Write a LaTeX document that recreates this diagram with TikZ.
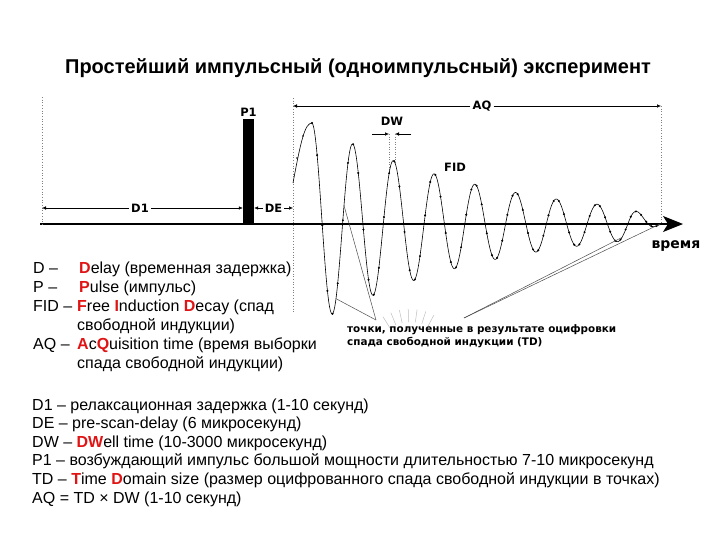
\documentclass[tikz,border=0pt]{standalone}
\usepackage{fontspec}
\setmainfont{Liberation Sans}
\newfontfamily\tagfont{DejaVu Sans}
\usetikzlibrary{arrows.meta, positioning, calc}
\definecolor{keyred}{HTML}{E01414}
\newcommand{\kl}[1]{\textbf{\textcolor{keyred}{#1}}}

\begin{document}
\begin{tikzpicture}[
    x=1pt, y=-1pt,
    declare function={fidamp(\t)=101*exp(-(\t-312)/175)*min(1,(661-\t)/30)*cos((\t-312)*8.8344);},
    tag/.style={font=\tagfont\bfseries\fontsize{11.5}{13}\selectfont, inner sep=2pt},
    note/.style={font=\tagfont\bfseries\fontsize{10.4}{13}\selectfont, align=left, inner sep=0pt},
    legend/.style={font=\fontsize{16}{19}\selectfont, anchor=base west, inner sep=0pt},
    guide/.style={gray, dotted, line width=0.7pt},
    dimarr/.style={-{Latex[length=4pt,width=3.5pt]}, line width=0.5pt},
    axis/.style={line width=1.1pt, -{Stealth[length=20pt,width=16pt,inset=5pt]}},
    fid/.style={line width=0.6pt},
    pointer/.style={black!70, line width=0.5pt},
    ray/.style={black!25, line width=0.5pt},
  ]
    \useasboundingbox (0,0) rectangle (718,539);

    % --- Title ---
    \node[font=\bfseries\fontsize{20}{24}\selectfont] (title) at (358,68)
      {Простейший импульсный (одноимпульсный) эксперимент};

    % --- Time axis ---
    \coordinate (axis0) at (40,224);
    \coordinate (axisend) at (683,224);
    \draw[axis] (axis0) -- (axisend);
    \node[tag, font=\tagfont\bfseries\fontsize{14}{16}\selectfont] (timelbl) at (676,246) {время};

    % --- Pulse ---
    \node[fill=black, inner sep=0pt, minimum width=11pt, minimum height=105pt] (p1) at (248.5,171.5) {};
    \node[tag, above=0pt of p1] (p1lbl) {P1};

    % --- Guides ---
    \draw[guide] (42,97) -- (42,224);
    \draw[guide] (293,98) -- (293,312);
    \draw[guide] (661,106) -- (661,224);

    % --- D1, DE, AQ ---
    \node[tag] (d1lbl) at (140,208) {D1};
    \draw[dimarr] (d1lbl) -- (42,208);
    \draw[dimarr] (d1lbl) -- (p1.west |- d1lbl);
    \node[tag] (delbl) at (273.5,208) {DE};
    \draw[dimarr] (delbl) -- (p1.east |- delbl);
    \draw[dimarr] (delbl) -- (293,208);
    \node[tag] (aqlbl) at (482,106) {AQ};
    \draw[dimarr] (aqlbl) -- (293,106);
    \draw[dimarr] (aqlbl) -- (661,106);

    % --- DW ---
    \node[tag] (dwlbl) at (392,121) {DW};
    \coordinate (dwl) at (389,134);
    \coordinate (dwr) at (395,134);
    \draw[dimarr] (372,134) -- (dwl);
    \draw[dimarr] (411,134) -- (dwr);
    \draw[guide, line width=0.5pt] (dwl) -- (389,{224-fidamp(389)});
    \draw[guide, line width=0.5pt] (dwr) -- (395,{224-fidamp(395)});

    % --- FID ---
    \draw[fid] (293,183) .. controls (301,140) and (305,123) .. (312,123)
      -- plot[domain=312:661, samples=400] (\x,{224-fidamp(\x)});
    \fill (297,158) circle (0.9pt) (303,136) circle (0.9pt);
    \draw plot[only marks, mark=*, mark size=0.8pt, domain=312:656.5, samples=68] (\x,{224-fidamp(\x)});
    \node[tag] (fidlbl) at (455,167) {FID};

    % --- Digitised points ---
    \node[note, anchor=north west] (notetxt) at (347,324)
      {точки, полученные в результате оцифровки\\спада свободной индукции (TD)};
    \coordinate (ptA) at (376,320);
    \coordinate (ptB) at (464,318);
    \draw[pointer] (ptA) -- (336,{224-fidamp(336)});
    \draw[pointer] (ptA) -- (344,{224-fidamp(344)});
    \draw[pointer] (ptB) -- (622,{224-fidamp(622)});
    \draw[pointer] (ptB) -- (660,224);
    \foreach \a in {-62,-72,...,-122}
      \draw[ray] ($(410,360)+(\a:38)$) -- ($(410,360)+(\a:51)$);

    % --- Legend ---
    \node[legend] (keyD)   at (33,273) {D –};
    \node[legend] (keyP)   at (33,292) {P –};
    \node[legend] (keyFID) at (33,311) {FID –};
    \node[legend] (keyAQ)  at (33,349) {AQ –};
    \node[legend] (defD)   at (79,273) {\kl{D}elay (временная задержка)};
    \node[legend] (defP)   at (79,292) {\kl{P}ulse (импульс)};
    \node[legend] (defFID) at (77,311) {\kl{F}ree \kl{I}nduction \kl{D}ecay (спад};
    \node[legend] (defFIDb) at (77,330) {свободной индукции)};
    \node[legend] (defAQ)  at (77,349) {\kl{A}c\kl{Q}uisition time (время выборки};
    \node[legend] (defAQb) at (77,368) {спада свободной индукции)};

    % --- Parameters ---
    \node[legend] (parD1) at (32,410)   {D1 – релаксационная задержка (1-10 секунд)};
    \node[legend] (parDE) at (32,428.6) {DE – pre-scan-delay (6 микросекунд)};
    \node[legend] (parDW) at (32,447.2) {DW – \kl{DW}ell time (10-3000 микросекунд)};
    \node[legend] (parP1) at (32,465.8) {P1 – возбуждающий импульс большой мощности длительностью 7-10 микросекунд};
    \node[legend] (parTD) at (32,484.4) {TD – \kl{T}ime \kl{D}omain size (размер оцифрованного спада свободной индукции в точках)};
    \node[legend] (parAQ) at (32,503)   {AQ = TD × DW (1-10 секунд)};
\end{tikzpicture}
\end{document}
